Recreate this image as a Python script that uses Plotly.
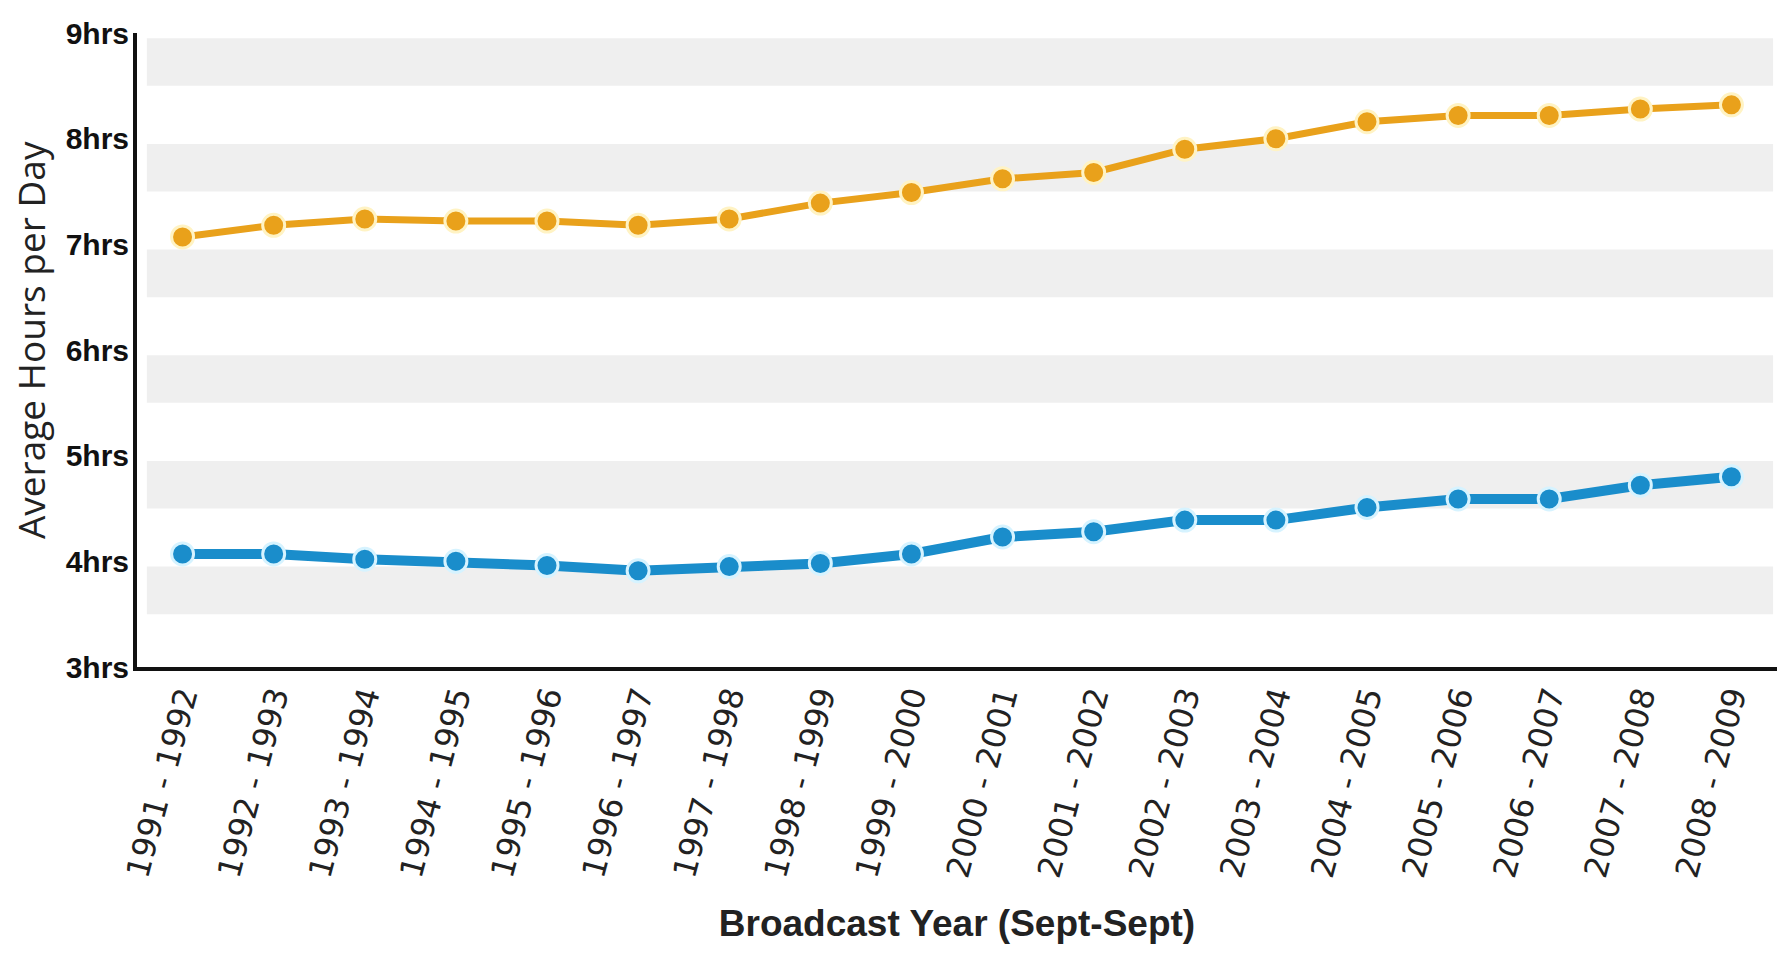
import plotly.graph_objects as go

years = ["1991 - 1992", "1992 - 1993", "1993 - 1994", "1994 - 1995", "1995 - 1996",
         "1996 - 1997", "1997 - 1998", "1998 - 1999", "1999 - 2000", "2000 - 2001",
         "2001 - 2002", "2002 - 2003", "2003 - 2004", "2004 - 2005", "2005 - 2006",
         "2006 - 2007", "2007 - 2008", "2008 - 2009"]

household_hours = [7.07, 7.18, 7.24, 7.22, 7.22, 7.18, 7.24, 7.39, 7.49, 7.62,
                   7.68, 7.90, 8.00, 8.16, 8.22, 8.22, 8.28, 8.32]

person_hours = [4.07, 4.07, 4.02, 4.00, 3.96, 3.91, 3.95, 3.98, 4.07, 4.23,
                4.28, 4.39, 4.39, 4.51, 4.59, 4.59, 4.72, 4.80]

y_tick_values = [3, 4, 5, 6, 7, 8, 9]
y_tick_labels = ["3hrs", "4hrs", "5hrs", "6hrs", "7hrs", "8hrs", "9hrs"]

band_starts = [3.5, 4.5, 5.5, 6.5, 7.5, 8.5]

ORANGE = "#E9A11B"
BLUE = "#1A8DCB"

fig = go.Figure()

fig.add_trace(go.Scatter(
    x=years, y=household_hours, mode="lines+markers", name="Per Household",
    line=dict(color=ORANGE, width=7),
    marker=dict(size=22, color=ORANGE, line=dict(color="#FFF3C4", width=3)),
))
fig.add_trace(go.Scatter(
    x=years, y=person_hours, mode="lines+markers", name="Per Person",
    line=dict(color=BLUE, width=10),
    marker=dict(size=22, color=BLUE, line=dict(color="#D6F3FF", width=3)),
))

for b in band_starts:
    fig.add_shape(type="rect", xref="paper", yref="y", x0=0.006, x1=0.9976,
                  y0=b, y1=b + 0.45, fillcolor="#EFEFEF", line=dict(width=0),
                  layer="below")

fig.add_annotation(
    text="Average Hours per Day", xref="paper", yref="paper",
    x=-0.0645, y=0.516, xanchor="center", yanchor="middle", textangle=-90,
    showarrow=False, font=dict(family="Open Sans", size=37, color="#222222"),
)

fig.update_layout(
    width=1785, height=955,
    margin=dict(l=137, r=8, t=33, b=288),
    paper_bgcolor="white", plot_bgcolor="white",
    showlegend=False,
    xaxis=dict(
        type="category", categoryorder="array", categoryarray=years,
        range=[-0.5, 17.5], showgrid=False, zeroline=False,
        showline=True, linecolor="#111111", linewidth=4,
        ticks="", tickangle=-75, ticklabelstandoff=-6,
        tickfont=dict(family="DejaVu Sans", size=32, color="#222222"),
        title=dict(text="Broadcast Year (Sept-Sept)", standoff=30,
                   font=dict(family="Liberation Sans", size=37,
                             color="#222222", weight="bold")),
    ),
    yaxis=dict(
        range=[3, 9], tickvals=y_tick_values, ticktext=y_tick_labels,
        showgrid=False, zeroline=False,
        showline=True, linecolor="#111111", linewidth=4,
        ticks="", ticklabelstandoff=-2,
        tickfont=dict(family="Liberation Sans", size=30,
                      color="#111111", weight="bold"),
    ),
)

fig.write_html("out.html")
